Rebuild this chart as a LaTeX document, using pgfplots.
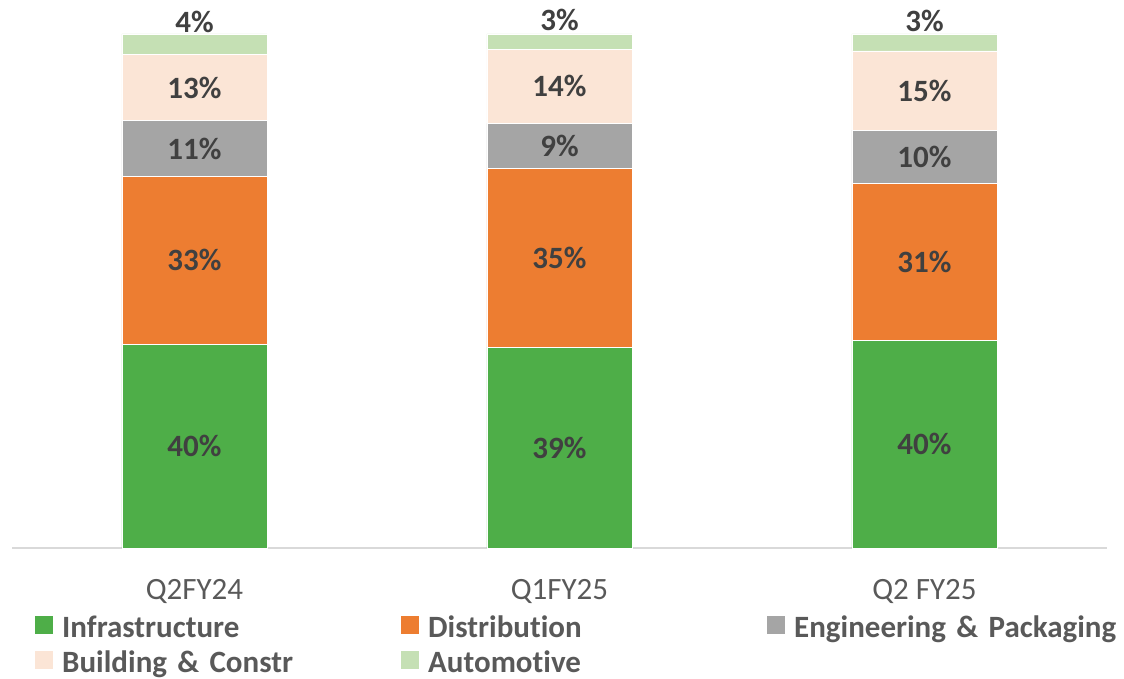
\documentclass[border=0pt]{standalone}
\usepackage{pgfplots}
\pgfplotsset{compat=1.18}
\usepackage{pgfplotstable}
\usepackage{fontspec}
\setmainfont{Carlito}[Ligatures=NoCommon]
\definecolor{cInfra}{HTML}{4EAE48}
\definecolor{cDist}{HTML}{ED7D31}
\definecolor{cEng}{HTML}{A5A5A5}
\definecolor{cBuild}{HTML}{FBE5D6}
\definecolor{cAuto}{HTML}{C5E0B4}
\definecolor{labelc}{HTML}{404040}
\definecolor{tickc}{HTML}{595959}
\definecolor{axisc}{HTML}{D9D9D9}

\pgfplotstableread{
x val lab
0 39.6 40
1 39.1 39
2 40.3 40
}\infra
\pgfplotstableread{
x val lab
0 32.7 33
1 34.7 35
2 30.6 31
}\dist
\pgfplotstableread{
x val lab
0 10.8 11
1 8.8 9
2 10.4 10
}\eng
\pgfplotstableread{
x val lab
0 12.9 13
1 14.4 14
2 15.4 15
}\build
\pgfplotstableread{
x val lab
0 4.0 4
1 3.0 3
2 3.3 3
}\auto

\begin{document}
\begin{tikzpicture}
\path[use as bounding box] (-12bp,-131bp) rectangle (1112bp,548bp);
\begin{axis}[
  scale only axis, width=1095bp, height=514bp,
  ybar stacked, bar width=145bp,
  xmin=-0.5, xmax=2.5, ymin=0, ymax=100,
  axis y line=none, axis x line*=bottom,
  x axis line style={axisc, line width=1.5bp, -},
  xtick=data, xticklabels={Q2FY24,Q1FY25,Q2 FY25},
  major tick length=0pt,
  xticklabel style={font=\fontsize{31bp}{37bp}\selectfont, text=tickc, yshift=-28bp},
  point meta=explicit symbolic,
  nodes near coords={\pgfplotspointmeta\%},
  nodes near coords style={font=\bfseries\fontsize{31bp}{37bp}\selectfont, text=labelc, anchor=center},
  every axis plot/.append style={draw=white, line width=0.75bp,
    legend image code/.code={\fill[##1,draw=none] (0bp,-4bp) rectangle (18bp,14bp);}},
  legend columns=3,
  legend cell align=left,
  legend style={draw=none, fill=none, at={(axis description cs:0.021,-0.131)}, anchor=north west, inner sep=0pt,
    font=\bfseries\fontsize{31bp}{37bp}\selectfont, text=tickc,
    nodes={inner sep=0pt, text width=330bp, align=left, text height=22bp, text depth=7bp},
    /tikz/every odd column/.append style={column sep=9bp},
    /tikz/every even column/.append style={column sep=9bp},
    row sep=6bp},
]
\addplot[fill=cInfra] table[x=x, y=val, meta=lab] {\infra};
\addplot[fill=cDist] table[x=x, y=val, meta=lab] {\dist};
\addplot[fill=cEng] table[x=x, y=val, meta=lab] {\eng};
\addplot[fill=cBuild] table[x=x, y=val, meta=lab] {\build};
\addplot[fill=cAuto, every node near coord/.append style={yshift=22bp}] table[x=x, y=val, meta=lab] {\auto};
\legend{Infrastructure, Distribution, Engineering \& Packaging, Building \& Constr, Automotive}
\end{axis}
\end{tikzpicture}
\end{document}
